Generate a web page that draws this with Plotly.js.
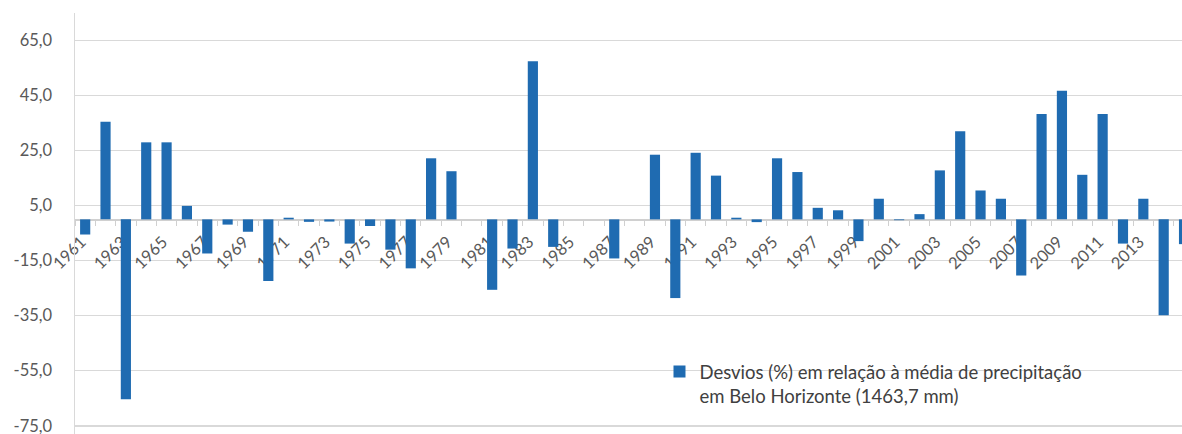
<!DOCTYPE html>
<html>
<head>
<meta charset="utf-8">
<script src="https://cdn.plot.ly/plotly-3.0.1.min.js"></script>
<style>html,body{margin:0;padding:0;background:#fff;overflow:hidden;width:1182px;height:434px;}#chart{display:block;width:1182px;height:434px;overflow:hidden;}</style>
</head>
<body>
<div id="chart"></div>
<script>
const years = [1961,1962,1963,1964,1965,1966,1967,1968,1969,1970,
  1971,1972,1973,1974,1975,1976,1977,1978,1979,1980,
  1981,1982,1983,1984,1985,1986,1987,1988,1989,1990,
  1991,1992,1993,1994,1995,1996,1997,1998,1999,2000,
  2001,2002,2003,2004,2005,2006,2007,2008,2009,2010,
  2011,2012,2013,2014,2015];
const desvios = [-5.5,35.5,-65.4,28.0,28.0,4.9,-12.4,-1.9,-4.5,-22.4,
  0.6,-0.9,-0.8,-8.8,-2.4,-11.0,-17.8,22.2,17.5,0,
  -25.6,-10.6,57.5,-10.0,0,0,-14.2,0,23.5,-28.6,
  24.2,15.9,0.6,-1.0,22.2,17.2,4.2,3.3,-7.9,7.5,
  -0.3,1.9,17.8,32.0,10.5,7.5,-20.4,38.3,46.7,16.2,
  38.3,-8.8,7.5,-34.8,-9.0];
const yTickVals = [-75,-55,-35,-15,5,25,45,65];
const yTickText = ["-75,0","-55,0","-35,0","-15,0","5,0","25,0","45,0","65,0"];
const seriesName = "Desvios (%) em relação à média de precipitação<br>em Belo Horizonte (1463,7 mm)";

const cats = years.map(String);
const xTickText = years.map(y => (y % 2 === 1 ? String(y) : ""));

const yMin = -78.0, yMax = 75;

const trace = {
  type: 'bar',
  x: cats,
  y: desvios,
  name: seriesName,
  marker: {color: '#1f6bb1', line: {width: 0}},
  showlegend: true
};

const layout = {
  width: 1182, height: 434,
  margin: {l: 75, r: 0, t: 13, b: 0},
  paper_bgcolor: '#ffffff', plot_bgcolor: '#ffffff',
  font: {family: 'Lato, "DejaVu Sans", sans-serif', color: '#595959', size: 17},
  bargap: 0.5,
  xaxis: {
    type: 'category',
    range: [-0.5, 53.9],
    anchor: 'free', position: (0 - yMin) / (yMax - yMin),
    layer: 'below traces',
    showgrid: false, zeroline: false,
    showline: true, linecolor: '#d0d0d0', linewidth: 1.5,
    tickmode: 'array', tickvals: cats, ticktext: xTickText,
    tickson: 'boundaries', ticks: 'outside', ticklen: 5, tickcolor: '#d0d0d0', tickwidth: 1,
    tickangle: -45,
    ticklabelstandoff: 5, ticklabelshift: -4,
    tickfont: {size: 16.5, color: '#595959'},
    automargin: false
  },
  yaxis: {
    range: [yMin, yMax],
    tickmode: 'array', tickvals: yTickVals, ticktext: yTickText,
    showgrid: true, gridcolor: '#d9d9d9', gridwidth: 1.5,
    zeroline: false,
    showline: true, linecolor: '#d9d9d9', linewidth: 1.5,
    ticks: '', ticklabelstandoff: 18, ticklabeloverflow: 'allow',
    tickfont: {size: 16.5, color: '#595959'},
    automargin: false
  },
  shapes: [{
    type: 'rect', xref: 'paper', yref: 'paper', layer: 'between',
    x0: 0.5375, x1: 0.9377, y0: -0.03, y1: 0.2,
    fillcolor: '#ffffff', line: {width: 0}
  }],
  legend: {
    x: 0.528, y: 0.1924, xanchor: 'left', yanchor: 'top',
    bgcolor: 'rgba(0,0,0,0)', borderwidth: 0,
    font: {size: 18.5, color: '#404040'},
    valign: 'top', itemwidth: 30
  }
};

Plotly.newPlot('chart', [trace], layout, {staticPlot: true, displayModeBar: false});
</script>
</body>
</html>
